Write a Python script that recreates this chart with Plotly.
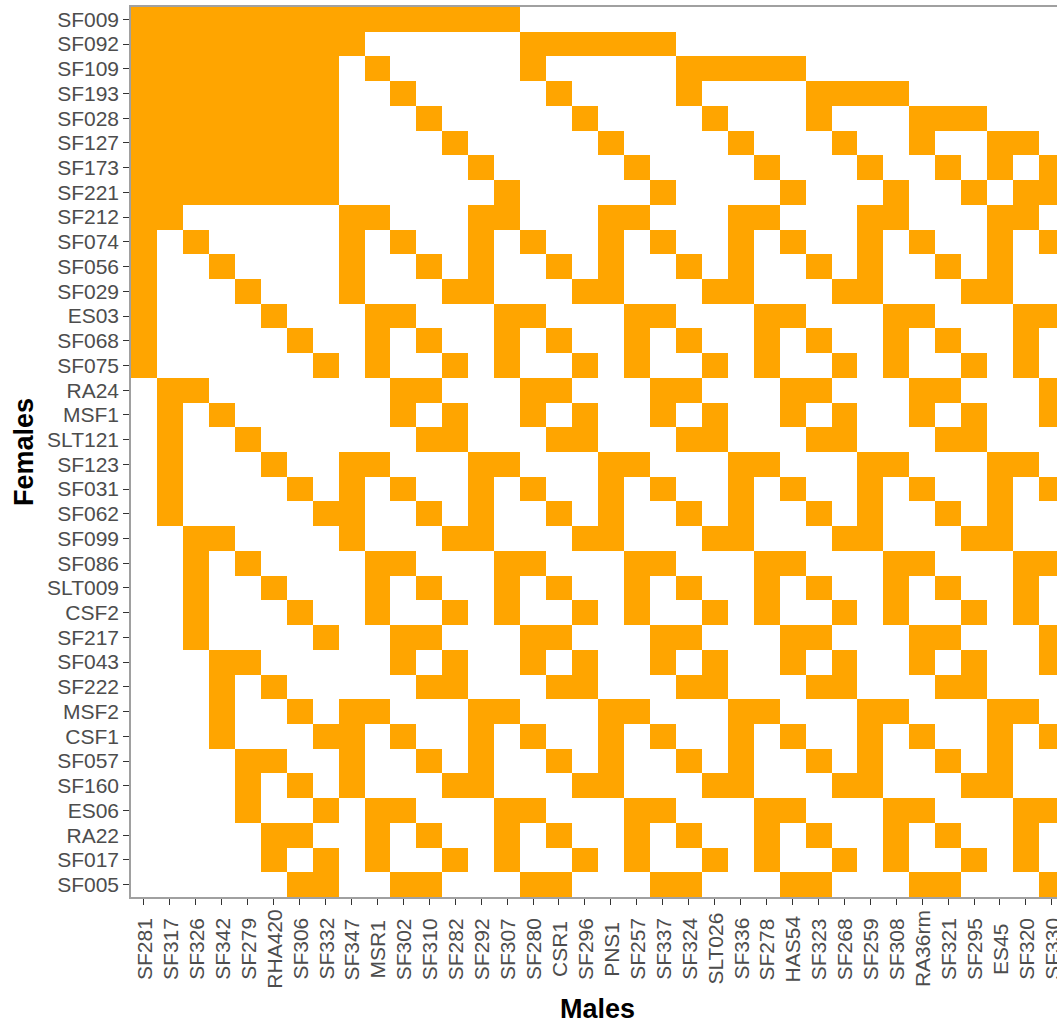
import plotly.graph_objects as go

# Female parents (rows, top to bottom)
females = ["SF009", "SF092", "SF109", "SF193", "SF028", "SF127", "SF173", "SF221",
           "SF212", "SF074", "SF056", "SF029", "ES03", "SF068", "SF075", "RA24",
           "MSF1", "SLT121", "SF123", "SF031", "SF062", "SF099", "SF086", "SLT009",
           "CSF2", "SF217", "SF043", "SF222", "MSF2", "CSF1", "SF057", "SF160",
           "ES06", "RA22", "SF017", "SF005"]

# Male parents (columns, left to right)
males = ["SF281", "SF317", "SF326", "SF342", "SF279", "RHA420", "SF306", "SF332",
         "SF347", "MSR1", "SF302", "SF310", "SF282", "SF292", "SF307", "SF280",
         "CSR1", "SF296", "PNS1", "SF257", "SF337", "SF324", "SLT026", "SF336",
         "SF278", "HAS54", "SF323", "SF268", "SF259", "SF308", "RA36rm", "SF321",
         "SF295", "ES45", "SF320", "SF330"]

# For each female, the indices of the males she was crossed with
crossed_males = [
    [0, 1, 2, 3, 4, 5, 6, 7, 8, 9, 10, 11, 12, 13, 14],
    [0, 1, 2, 3, 4, 5, 6, 7, 8, 15, 16, 17, 18, 19, 20],
    [0, 1, 2, 3, 4, 5, 6, 7, 9, 15, 21, 22, 23, 24, 25],
    [0, 1, 2, 3, 4, 5, 6, 7, 10, 16, 21, 26, 27, 28, 29],
    [0, 1, 2, 3, 4, 5, 6, 7, 11, 17, 22, 26, 30, 31, 32],
    [0, 1, 2, 3, 4, 5, 6, 7, 12, 18, 23, 27, 30, 33, 34],
    [0, 1, 2, 3, 4, 5, 6, 7, 13, 19, 24, 28, 31, 33, 35],
    [0, 1, 2, 3, 4, 5, 6, 7, 14, 20, 25, 29, 32, 34, 35],
    [0, 1, 8, 9, 13, 14, 18, 19, 23, 24, 28, 29, 33, 34],
    [0, 2, 8, 10, 13, 15, 18, 20, 23, 25, 28, 30, 33, 35],
    [0, 3, 8, 11, 13, 16, 18, 21, 23, 26, 28, 31, 33],
    [0, 4, 8, 12, 13, 17, 18, 22, 23, 27, 28, 32, 33],
    [0, 5, 9, 10, 14, 15, 19, 20, 24, 25, 29, 30, 34, 35],
    [0, 6, 9, 11, 14, 16, 19, 21, 24, 26, 29, 31, 34],
    [0, 7, 9, 12, 14, 17, 19, 22, 24, 27, 29, 32, 34],
    [1, 2, 10, 11, 15, 16, 20, 21, 25, 26, 30, 31, 35],
    [1, 3, 10, 12, 15, 17, 20, 22, 25, 27, 30, 32, 35],
    [1, 4, 11, 12, 16, 17, 21, 22, 26, 27, 31, 32],
    [1, 5, 8, 9, 13, 14, 18, 19, 23, 24, 28, 29, 33, 34],
    [1, 6, 8, 10, 13, 15, 18, 20, 23, 25, 28, 30, 33, 35],
    [1, 7, 8, 11, 13, 16, 18, 21, 23, 26, 28, 31, 33],
    [2, 3, 8, 12, 13, 17, 18, 22, 23, 27, 28, 32, 33],
    [2, 4, 9, 10, 14, 15, 19, 20, 24, 25, 29, 30, 34, 35],
    [2, 5, 9, 11, 14, 16, 19, 21, 24, 26, 29, 31, 34],
    [2, 6, 9, 12, 14, 17, 19, 22, 24, 27, 29, 32, 34],
    [2, 7, 10, 11, 15, 16, 20, 21, 25, 26, 30, 31, 35],
    [3, 4, 10, 12, 15, 17, 20, 22, 25, 27, 30, 32, 35],
    [3, 5, 11, 12, 16, 17, 21, 22, 26, 27, 31, 32],
    [3, 6, 8, 9, 13, 14, 18, 19, 23, 24, 28, 29, 33, 34],
    [3, 7, 8, 10, 13, 15, 18, 20, 23, 25, 28, 30, 33, 35],
    [4, 5, 8, 11, 13, 16, 18, 21, 23, 26, 28, 31, 33],
    [4, 6, 8, 12, 13, 17, 18, 22, 23, 27, 28, 32, 33],
    [4, 7, 9, 10, 14, 15, 19, 20, 24, 25, 29, 30, 34, 35],
    [5, 6, 9, 11, 14, 16, 19, 21, 24, 26, 29, 31, 34],
    [5, 7, 9, 12, 14, 17, 19, 22, 24, 27, 29, 32, 34],
    [6, 7, 10, 11, 15, 16, 20, 21, 25, 26, 30, 31, 35],
]

# Presence/absence matrix of crosses
z = [[1 if j in row else 0 for j in range(len(males))] for row in crossed_males]

FONT = "Liberation Sans, Arial, Helvetica, sans-serif"
TICK_COLOR = "#4d4d4d"

fig = go.Figure(
    go.Heatmap(
        x=males,
        y=females,
        z=z,
        zmin=0,
        zmax=1,
        colorscale=[[0, "#ffffff"], [1, "#ffa500"]],
        showscale=False,
        xgap=0,
        ygap=0,
        hovertemplate="Female: %{y}<br>Male: %{x}<extra></extra>",
    )
)

# Male names, rotated and centred under each tick
annotations = []
for i, m in enumerate(males):
    annotations.append(dict(
        x=i, xref="x", y=0, yref="paper", yshift=-52,
        text=m, textangle=-90, showarrow=False,
        xanchor="center", yanchor="middle",
        font=dict(family=FONT, size=21, color=TICK_COLOR),
    ))

# Axis titles
annotations.append(dict(
    x=(len(males) - 1) / 2, xref="x", y=0, yref="paper", yshift=-112,
    text="<b>Males</b>", showarrow=False, xanchor="center", yanchor="middle",
    font=dict(family=FONT, size=27, color="#000000"),
))
annotations.append(dict(
    x=0, xref="paper", xshift=-107, y=0.5, yref="paper",
    text="<b>Females</b>", textangle=-90, showarrow=False,
    xanchor="center", yanchor="middle",
    font=dict(family=FONT, size=27, color="#000000"),
))

fig.update_layout(
    width=1057,
    height=1023,
    margin=dict(l=131, r=0, t=7, b=126),
    paper_bgcolor="#ffffff",
    plot_bgcolor="#ffffff",
    annotations=annotations,
    xaxis=dict(
        type="category",
        categoryorder="array",
        categoryarray=males,
        range=[-0.5, 35.2],
        tickmode="array",
        tickvals=males,
        showline=True,
        linecolor="#a0a0a0",
        linewidth=1.5,
        mirror=True,
        ticks="outside",
        ticklen=6,
        tickwidth=1.2,
        tickcolor="#333333",
        showticklabels=False,
        showgrid=False,
        zeroline=False,
    ),
    yaxis=dict(
        type="category",
        categoryorder="array",
        categoryarray=females,
        range=[len(females) - 0.5, -0.5],
        tickmode="array",
        tickvals=females,
        ticktext=females,
        showline=True,
        linecolor="#a0a0a0",
        linewidth=1.5,
        mirror=False,
        ticks="outside",
        ticklen=6,
        tickwidth=1.2,
        tickcolor="#333333",
        tickfont=dict(family=FONT, size=21, color=TICK_COLOR),
        showgrid=False,
        zeroline=False,
    ),
)

fig.write_html("out.html")
